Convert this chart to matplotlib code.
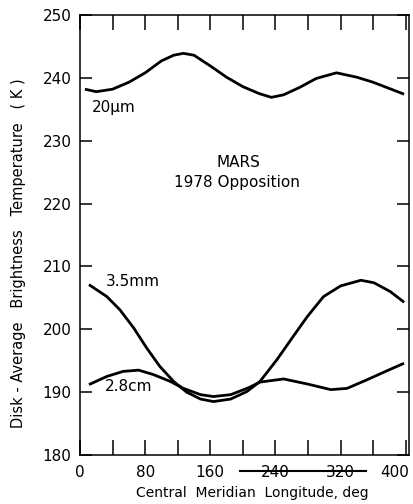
import matplotlib
matplotlib.use("Agg")
import matplotlib.pyplot as plt
import matplotlib.transforms as mtransforms
from matplotlib.ticker import MultipleLocator

# Disk-average brightness temperature vs. central meridian longitude
lon_20um = [6, 20, 40, 60, 80, 100, 115, 127, 140, 160, 180, 200, 220, 235,
            250, 270, 290, 315, 340, 360, 380, 398]
temp_20um = [238.2, 237.8, 238.2, 239.3, 240.8, 242.7, 243.6, 243.9, 243.6,
             241.9, 240.1, 238.6, 237.5, 236.9, 237.3, 238.5, 239.9, 240.8,
             240.1, 239.3, 238.3, 237.4]

lon_35mm = [11, 33, 49, 66, 82, 98, 115, 131, 148, 164, 185, 205, 221, 242,
            262, 279, 299, 320, 345, 361, 381, 398]
temp_35mm = [207.1, 205.2, 203.1, 200.2, 197.0, 194.1, 191.7, 190.0, 188.9,
             188.5, 188.9, 190.1, 191.7, 195.2, 198.9, 202.0, 205.2, 206.9,
             207.8, 207.4, 206.0, 204.3]

lon_28cm = [11, 33, 53, 72, 90, 111, 127, 148, 164, 185, 207, 221, 250, 279,
            308, 328, 353, 377, 398]
temp_28cm = [191.2, 192.5, 193.3, 193.5, 192.8, 191.7, 190.6, 189.6, 189.3,
             189.6, 190.7, 191.6, 192.1, 191.3, 190.4, 190.6, 192.0, 193.4,
             194.6]

x_ticks = [0, 80, 160, 240, 320, 400]
y_ticks = [180, 190, 200, 210, 220, 230, 240, 250]

plt.rcParams['font.family'] = 'DejaVu Sans'

fig = plt.figure(figsize=(4.13, 5.04), dpi=100)
ax = fig.add_axes([80 / 413, 49 / 504, 329 / 413, 440 / 504])

for lon, temp in [(lon_20um, temp_20um), (lon_35mm, temp_35mm), (lon_28cm, temp_28cm)]:
    ax.plot(lon, temp, color='black', lw=2.0, solid_capstyle='butt')

ax.set_xlim(0, 404)
ax.set_ylim(180, 250)
ax.set_xticks(x_ticks)
ax.xaxis.set_minor_locator(MultipleLocator(40))
ax.set_yticks(y_ticks)

for s in ax.spines.values():
    s.set_linewidth(1.1)

ax.tick_params(axis='x', which='both', direction='in', top=True, length=11,
               width=1.1, pad=7, labelsize=11)
ax.tick_params(axis='y', which='both', direction='in', right=True, length=8.5,
               width=1.1, pad=6, labelsize=11)

# pull the last x label in so it stays inside the figure
last = ax.xaxis.get_major_ticks()[-1].label1
last.set_transform(last.get_transform() +
                   mtransforms.ScaledTranslation(-8 / 72, 0, fig.dpi_scale_trans))

ax.set_xlabel('Central  Meridian  Longitude, deg', fontsize=10)
ax.xaxis.set_label_coords(0.523, -0.071)
ax.set_ylabel('Disk - Average   Brightness   Temperature   ( K )', fontsize=10.5)
ax.yaxis.set_label_coords(-0.165, 0.459)

# curve labels and title block
ax.text(15, 235.3, '20µm', fontsize=11, va='center', ha='left')
ax.text(32, 207.6, '3.5mm', fontsize=11, va='center', ha='left')
ax.text(30, 190.9, '2.8cm', fontsize=11, va='center', ha='left')
ax.text(195, 226.6, 'MARS', fontsize=11, va='center', ha='center')
ax.text(193, 223.3, '1978 Opposition', fontsize=11, va='center', ha='center')

# stray rule across the lower tick labels
trans = mtransforms.blended_transform_factory(ax.transData, ax.transAxes)
ax.plot([197, 351], [-0.036, -0.036], color='black', lw=1.5,
        transform=trans, clip_on=False)

fig.savefig('out.png', dpi=100, facecolor='white')
